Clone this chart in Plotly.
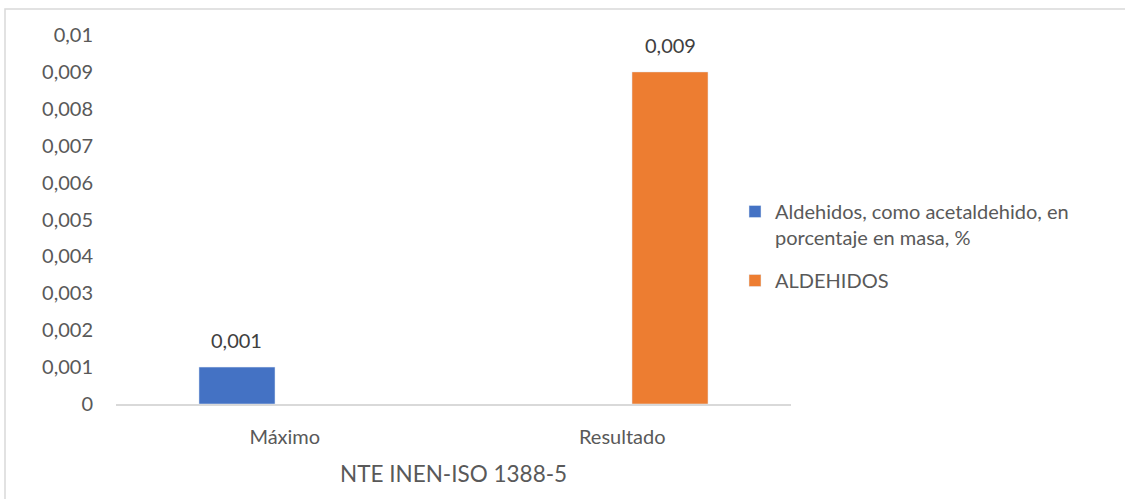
import plotly.graph_objects as go

# Chart data
categories = ["Máximo", "Resultado"]
series_names = [
    "Aldehidos, como acetaldehido, en<br>porcentaje en masa, %",
    "ALDEHIDOS",
]
maximo_values = [0.001, None]
resultado_values = [None, 0.009]
y_tick_values = [0, 0.001, 0.002, 0.003, 0.004, 0.005, 0.006, 0.007, 0.008, 0.009, 0.01]
y_tick_labels = ["0", "0,001", "0,002", "0,003", "0,004", "0,005", "0,006", "0,007", "0,008", "0,009", "0,01"]
x_title = "NTE INEN-ISO 1388-5"

colors = ["#4472C4", "#ED7D31"]
text_color = "#595959"
font_family = "Lato, 'Open Sans', sans-serif"
fs = 20


def fmt(v):
    return f"{v:g}".replace(".", ",")


W, H = 1125, 499
ml, mr, mt, mb = 116, 334, 35, 95
pw, ph = W - ml - mr, H - mt - mb
bargap, bargroupgap = 0.434, 0.204
# horizontal offset of each bar from its category centre (pixels)
slot = pw / len(categories)
bar_shift = slot * (1 - bargap) / 4

fig = go.Figure()
for i, (name, vals, col) in enumerate(zip(series_names, [maximo_values, resultado_values], colors)):
    fig.add_trace(go.Bar(
        x=categories, y=vals, name=name, marker_color=col, legendgroup=str(i),
    ))
    # value labels above the bars
    for cat, v in zip(categories, vals):
        if v is None:
            continue
        fig.add_annotation(
            x=cat, y=v, text=fmt(v), showarrow=False,
            xshift=(-1 if i == 0 else 1) * bar_shift, yanchor="bottom", yshift=13,
            font=dict(color="#404040", size=fs, family=font_family),
        )

# category-axis title below the tick labels
fig.add_annotation(
    x=0.5, xref="paper", y=-(474 - mt - ph) / ph, yref="paper", yanchor="middle",
    text=x_title, showarrow=False,
    font=dict(family=font_family, size=22.5, color=text_color),
)

# light frame around the whole chart
fig.add_shape(type="rect", xref="paper", yref="paper",
              x0=(5 - ml) / pw, x1=(W + 10 - ml) / pw,
              y0=-(H + 10 - mt - ph) / ph, y1=(mt + ph - 9) / ph,
              line=dict(color="#D9D9D9", width=1.5), fillcolor="rgba(0,0,0,0)", layer="below")

fig.update_layout(
    width=W, height=H,
    margin=dict(l=ml, r=mr, t=mt, b=mb),
    plot_bgcolor="white", paper_bgcolor="white",
    barmode="group", bargap=bargap, bargroupgap=bargroupgap,
    font=dict(family=font_family, size=fs, color=text_color),
    showlegend=True,
    legend=dict(x=(735 - ml) / pw, y=(mt + ph - 192) / ph, xanchor="left", yanchor="top",
                valign="top", tracegroupgap=14, font=dict(size=fs, color=text_color),
                itemwidth=30),
    xaxis=dict(showline=True, linecolor="#D9D9D9", linewidth=1.5, ticks="",
               ticklabelstandoff=14),
    yaxis=dict(range=[0, 0.01], tickvals=y_tick_values, ticktext=y_tick_labels,
               showgrid=False, zeroline=False, showline=False, ticks="",
               ticklabelstandoff=22),
)

fig.write_html("out.html")
